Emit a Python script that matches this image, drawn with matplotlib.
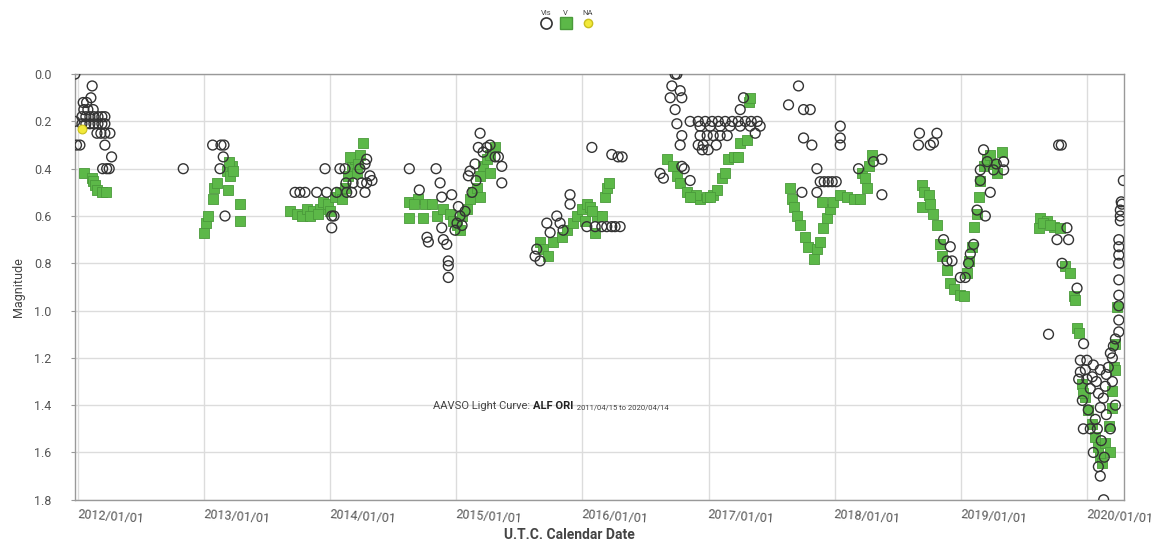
import numpy as np
import matplotlib
matplotlib.use("Agg")
import matplotlib.pyplot as plt

plt.rcParams['font.family'] = ['Roboto', 'DejaVu Sans']

# Visual estimates (decimal year, magnitude)
vis_year = [
    2011.977, 2012.114, 2012.104, 2012.043, 2012.070, 2012.122, 2012.048, 2012.080,
    2012.033, 2012.064, 2012.096, 2012.128, 2012.160, 2012.191, 2012.215,
    2012.033, 2012.064, 2012.096, 2012.128, 2012.160, 2012.191, 2012.215,
    2011.977, 2012.152, 2012.183, 2012.215, 2012.255, 2011.990, 2012.017, 2012.215,
    2012.268, 2012.197, 2012.229, 2012.249, 2012.836,
    # 2012-13
    2013.069, 2013.135, 2013.159, 2013.153, 2013.127, 2013.167,
    # 2013-14
    2013.722, 2013.761, 2013.801, 2013.894, 2013.973, 2014.052, 2014.132, 2014.171,
    2014.277, 2013.960, 2014.078, 2014.118, 2014.251, 2014.290, 2014.013, 2014.031,
    2014.013, 2014.290, 2014.182, 2014.126, 2014.237, 2014.277, 2014.316, 2014.332,
    # 2014-15
    2014.628, 2014.840, 2014.872, 2014.707, 2014.964, 2014.885, 2014.768, 2014.779,
    2014.898, 2014.925, 2014.937, 2014.937, 2014.937, 2014.885, 2014.990, 2015.096,
    2015.109, 2015.149, 2015.189, 2015.175, 2015.242, 2015.308, 2015.334, 2015.361,
    2015.361, 2015.017, 2015.030, 2015.006, 2015.046, 2015.070, 2015.125, 2015.157,
    2015.213, 2015.268,
    # 2015-16
    2015.638, 2015.625, 2015.665, 2015.718, 2015.744, 2015.797, 2015.823, 2015.902,
    2015.902, 2016.075, 2016.233, 2016.283, 2016.315, 2016.035, 2016.101, 2016.154,
    2016.193, 2016.233, 2016.259, 2016.299, 2015.847,
    # 2016-17
    2016.735, 2016.749, 2016.709, 2016.775, 2016.696, 2016.788, 2016.735, 2016.749,
    2016.854, 2016.788, 2016.775, 2016.616, 2016.642, 2016.788, 2016.807, 2016.854,
    2017.277, 2017.251,
    2016.918, 2016.974, 2017.029, 2017.077, 2017.132, 2017.188, 2017.235, 2017.291,
    2017.338, 2017.386, 2016.933, 2017.013, 2017.092, 2017.171, 2017.251, 2017.330,
    2016.933, 2016.989, 2017.037, 2017.092, 2017.148, 2016.918, 2016.958, 2017.061,
    2016.950, 2016.997, 2017.409, 2017.370,
    # 2017-18
    2017.713, 2017.634, 2017.753, 2017.806, 2017.753, 2017.819, 2017.859, 2017.740,
    2017.859, 2017.885, 2017.917, 2017.949, 2017.980, 2018.012, 2018.044, 2018.044,
    2018.044, 2018.189, 2018.308, 2018.374, 2018.374,
    # 2018-19
    2018.672, 2018.810, 2018.664, 2018.757, 2018.783, 2018.863, 2018.916, 2018.890,
    2018.930, 2018.996, 2019.035, 2019.061, 2019.075, 2019.101, 2019.128, 2019.194,
    2019.154, 2019.154, 2019.180, 2019.233, 2019.259, 2019.339, 2019.339, 2019.209,
    2019.281,
    # 2019-20
    2019.775, 2019.796, 2019.762, 2019.841, 2019.854, 2019.921, 2019.802, 2019.695,
    2019.973,
    2019.947, 2019.999, 2019.934, 2019.999, 2020.050, 2020.105, 2020.153, 2020.026,
    2020.074, 2020.129, 2019.971, 2020.026, 2020.082, 2020.105, 2020.066, 2020.105,
    2020.132, 2020.185, 2020.209, 2020.225, 2020.252, 2020.252, 2020.252, 2020.252,
    2020.252, 2020.252, 2020.252, 2020.252, 2020.252, 2020.264, 2020.264, 2020.277,
    2020.288, 2020.271, 2020.264,
    2019.987, 2020.042, 2020.090, 2020.145, 2020.169, 2020.201, 2019.963, 2020.010,
    2020.153, 2020.050, 2020.137, 2020.090, 2020.225, 2020.185, 2020.113, 2019.947,
    2020.201,
]
vis_mag = [
    0.00, 0.05, 0.10, 0.12, 0.12, 0.15, 0.15, 0.15,
    0.18, 0.18, 0.18, 0.18, 0.18, 0.18, 0.18,
    0.21, 0.21, 0.21, 0.21, 0.21, 0.21, 0.21,
    0.20, 0.25, 0.25, 0.25, 0.25, 0.30, 0.30, 0.30,
    0.35, 0.40, 0.40, 0.40, 0.40,
    0.30, 0.30, 0.30, 0.35, 0.40, 0.60,
    0.50, 0.50, 0.50, 0.50, 0.50, 0.50, 0.50, 0.50,
    0.50, 0.40, 0.40, 0.40, 0.46, 0.46, 0.60, 0.60,
    0.65, 0.36, 0.46, 0.46, 0.40, 0.38, 0.43, 0.45,
    0.40, 0.40, 0.46, 0.49, 0.51, 0.52, 0.69, 0.71,
    0.70, 0.72, 0.79, 0.81, 0.86, 0.65, 0.66, 0.43,
    0.41, 0.38, 0.25, 0.31, 0.31, 0.35, 0.35, 0.39,
    0.46, 0.56, 0.60, 0.63, 0.64, 0.58, 0.50, 0.45,
    0.33, 0.30,
    0.74, 0.77, 0.79, 0.63, 0.67, 0.60, 0.63, 0.51,
    0.55, 0.31, 0.34, 0.35, 0.35, 0.645, 0.645, 0.645,
    0.645, 0.645, 0.645, 0.645, 0.66,
    0.00, 0.00, 0.05, 0.07, 0.10, 0.10, 0.15, 0.21,
    0.20, 0.26, 0.30, 0.42, 0.44, 0.39, 0.40, 0.45,
    0.10, 0.15,
    0.20, 0.20, 0.20, 0.20, 0.20, 0.20, 0.20, 0.20,
    0.20, 0.20, 0.22, 0.22, 0.22, 0.22, 0.22, 0.22,
    0.26, 0.26, 0.26, 0.26, 0.26, 0.30, 0.30, 0.30,
    0.32, 0.32, 0.22, 0.25,
    0.05, 0.13, 0.15, 0.15, 0.27, 0.30, 0.40, 0.50,
    0.50, 0.455, 0.455, 0.455, 0.455, 0.455, 0.22, 0.27,
    0.30, 0.40, 0.37, 0.36, 0.51,
    0.25, 0.25, 0.30, 0.30, 0.29, 0.70, 0.73, 0.79,
    0.79, 0.86, 0.86, 0.80, 0.76, 0.72, 0.575, 0.60,
    0.45, 0.405, 0.32, 0.50, 0.405, 0.37, 0.405, 0.37,
    0.38,
    0.30, 0.30, 0.70, 0.65, 0.70, 0.905, 0.80, 1.10,
    1.14,
    1.21, 1.21, 1.29, 1.29, 1.23, 1.25, 1.27, 1.33,
    1.30, 1.37, 1.50, 1.50, 1.50, 1.41, 1.46, 1.70,
    1.80, 1.18, 1.15, 1.12, 1.09, 1.04, 0.98, 0.935,
    0.87, 0.80, 0.765, 0.73, 0.70, 0.60, 0.575, 0.55,
    0.45, 0.54, 0.62,
    1.25, 1.28, 1.35, 1.32, 1.24, 1.30, 1.38, 1.42,
    1.44, 1.60, 1.62, 1.66, 1.40, 1.50, 1.55, 1.26,
    1.20,
]

# Johnson V (decimal year, magnitude)
v_year = [
    2012.048, 2012.109, 2012.122, 2012.136, 2012.149, 2012.189, 2012.223,
    2013.000, 2013.016, 2013.034, 2013.074, 2013.079, 2013.101, 2013.180, 2013.220,
    2013.206, 2013.193, 2013.285, 2013.285, 2013.198, 2013.230,
    2013.682, 2013.735, 2013.775, 2013.814, 2013.867, 2013.920, 2013.946, 2013.986,
    2014.039, 2014.078, 2014.118, 2014.144, 2014.171, 2014.197, 2014.237, 2014.263,
    2014.158, 2014.211, 2013.841, 2013.904, 2013.999, 2014.094, 2014.221,
    2014.628, 2014.628, 2014.699, 2014.739, 2014.753, 2014.806, 2014.845, 2014.898,
    2014.951, 2014.977, 2015.004, 2015.044, 2015.083, 2015.109, 2015.136, 2015.163,
    2015.189, 2015.215, 2015.242, 2015.268, 2015.308, 2015.268, 2015.189, 2015.030,
    2014.665,
    2015.665, 2015.691, 2015.731, 2015.770, 2015.837, 2015.876, 2015.929, 2015.955,
    2015.995, 2016.035, 2016.061, 2016.114, 2016.101, 2016.154, 2016.180, 2016.193,
    2016.214, 2016.021, 2016.077,
    2016.669, 2016.722, 2016.749, 2016.775, 2016.828, 2016.880, 2016.933, 2016.986,
    2017.039, 2017.066, 2017.105, 2017.132, 2017.158, 2017.198, 2017.237, 2017.251,
    2017.304, 2017.317, 2017.330, 2017.013, 2016.902, 2016.854,
    2017.649, 2017.662, 2017.675, 2017.702, 2017.726, 2017.767, 2017.792, 2017.832,
    2017.859, 2017.885, 2017.911, 2017.938, 2017.964, 2017.898, 2017.990, 2018.044,
    2018.097, 2018.150, 2018.202, 2018.216, 2018.242, 2018.255, 2018.295, 2018.269,
    2018.692, 2018.704, 2018.744, 2018.692, 2018.757, 2018.783, 2018.810, 2018.836,
    2018.849, 2018.890, 2018.916, 2018.943, 2018.996, 2019.022, 2019.048, 2019.061,
    2019.088, 2019.101, 2019.128, 2019.141, 2019.154, 2019.180, 2019.207, 2019.259,
    2019.286, 2019.326, 2019.233,
    2019.630, 2019.617, 2019.683, 2019.735, 2019.788, 2019.828, 2019.868, 2019.894,
    2019.907, 2019.921, 2019.934, 2019.653, 2019.709,
    2019.959, 2019.985, 2020.011, 2020.064, 2020.090, 2020.105, 2020.119, 2020.145,
    2020.198, 2020.198, 2020.211, 2020.225, 2020.238, 2020.172, 2020.042, 2019.971,
    2020.225, 2020.185,
]
v_mag = [
    0.42, 0.44, 0.45, 0.47, 0.49, 0.50, 0.50,
    0.67, 0.63, 0.60, 0.53, 0.48, 0.46, 0.41, 0.39,
    0.43, 0.49, 0.55, 0.62, 0.37, 0.41,
    0.58, 0.59, 0.60, 0.57, 0.58, 0.57, 0.54, 0.55,
    0.52, 0.50, 0.48, 0.43, 0.39, 0.36, 0.34, 0.29,
    0.35, 0.42, 0.60, 0.59, 0.58, 0.53, 0.38,
    0.54, 0.61, 0.53, 0.61, 0.55, 0.55, 0.60, 0.57,
    0.59, 0.62, 0.64, 0.60, 0.57, 0.53, 0.50, 0.48,
    0.43, 0.39, 0.36, 0.34, 0.31, 0.42, 0.52, 0.66,
    0.55,
    0.71, 0.74, 0.77, 0.71, 0.69, 0.66, 0.63, 0.60,
    0.57, 0.55, 0.56, 0.60, 0.67, 0.60, 0.52, 0.48,
    0.46, 0.62, 0.58,
    0.36, 0.39, 0.43, 0.46, 0.50, 0.52, 0.53, 0.52,
    0.51, 0.49, 0.44, 0.42, 0.36, 0.35, 0.35, 0.29,
    0.28, 0.12, 0.10, 0.52, 0.51, 0.52,
    0.48, 0.53, 0.56, 0.60, 0.64, 0.69, 0.73, 0.78,
    0.74, 0.71, 0.65, 0.61, 0.57, 0.54, 0.54, 0.51,
    0.52, 0.53, 0.53, 0.42, 0.44, 0.48, 0.34, 0.39,
    0.47, 0.50, 0.51, 0.56, 0.55, 0.59, 0.64, 0.72,
    0.77, 0.83, 0.885, 0.91, 0.935, 0.94, 0.84, 0.79,
    0.73, 0.645, 0.59, 0.52, 0.45, 0.39, 0.36, 0.38,
    0.42, 0.33, 0.34,
    0.61, 0.65, 0.62, 0.645, 0.65, 0.81, 0.84, 0.94,
    0.955, 1.075, 1.095, 0.63, 0.64,
    1.31, 1.365, 1.42, 1.535, 1.575, 1.62, 1.645, 1.56,
    1.41, 1.34, 1.24, 1.14, 0.985, 1.49, 1.48, 1.35,
    1.25, 1.60,
]

# Unfiltered / no band given
na_year = [2012.030]
na_mag = [0.23]

year_ticks = list(range(2012, 2021))
year_labels = [f"{y}/01/01" for y in year_ticks]

fig = plt.figure(figsize=(11.52, 5.45), dpi=100)
ax = fig.add_axes([0.065, 0.083, 0.911, 0.781])

ax.scatter(v_year, v_mag, marker='s', s=58, facecolor='#5cb848',
           edgecolor='#4a9a3a', linewidth=0.6, zorder=3)
ax.scatter(vis_year, vis_mag, marker='o', s=50, facecolor='none',
           edgecolor='#333333', linewidth=1.0, zorder=4)
ax.scatter(na_year, na_mag, marker='o', s=40, facecolor='#f2e93a',
           edgecolor='#c9bf1e', linewidth=0.8, zorder=5)

ax.set_xlim(2011.977, 2020.296)
ax.set_ylim(1.8, 0.0)
ax.set_yticks(np.arange(0, 1.81, 0.2))
ax.set_yticklabels([f"{v:.1f}" for v in np.arange(0, 1.81, 0.2)])
ax.set_xticks(year_ticks)
ax.set_xticklabels(year_labels, rotation=-4, ha='left', va='top',
                   rotation_mode='anchor')

ax.grid(True, color='#dcdcdc', linewidth=1.0, zorder=0)
ax.set_axisbelow(True)
for side in ax.spines.values():
    side.set_color('#999999')
    side.set_linewidth(1.0)

ax.tick_params(axis='y', length=3, pad=14, labelsize=9, colors='#999999',
               labelcolor='#555555')
ax.tick_params(axis='x', length=0, pad=6, labelsize=9, labelcolor='#555555')

ax.set_ylabel('Magnitude', fontsize=9, color='#444444')
ax.yaxis.set_label_coords(-0.048, 0.5)
ax.set_xlabel('U.T.C. Calendar Date', fontsize=10, fontweight='bold',
              color='#444444')
ax.xaxis.set_label_coords(0.471, -0.066)

# caption inside the plot: normal / bold / small pieces
t1 = ax.text(0.341, 0.214, 'AAVSO Light Curve: ', transform=ax.transAxes,
             fontsize=8, color='#444444', va='baseline')
t2 = ax.annotate('ALF ORI', xy=(1, 0), xycoords=t1, fontsize=8,
                 fontweight='bold', color='#222222', va='bottom')
ax.annotate('  2011/04/15 to 2020/04/14', xy=(1, 0), xycoords=t2,
            fontsize=5.5, color='#444444', va='bottom')

# legend strip above the axes
leg_x = [0.474, 0.491, 0.510]
leg_txt = ['Vis', 'V', 'NA']
for lx, lt in zip(leg_x, leg_txt):
    fig.text(lx, 0.972, lt, fontsize=5.5, ha='center', color='#444444')
fig.lines.append(plt.Line2D([leg_x[0]], [0.957], marker='o', markersize=8,
                            markerfacecolor='none', markeredgecolor='#333333',
                            markeredgewidth=1.2, transform=fig.transFigure))
fig.lines.append(plt.Line2D([leg_x[1]], [0.957], marker='s', markersize=8,
                            markerfacecolor='#5cb848', markeredgecolor='#4a9a3a',
                            transform=fig.transFigure))
fig.lines.append(plt.Line2D([leg_x[2]], [0.957], marker='o', markersize=6,
                            markerfacecolor='#f2e93a', markeredgecolor='#c9bf1e',
                            transform=fig.transFigure))

fig.savefig('out.png', dpi=100)
